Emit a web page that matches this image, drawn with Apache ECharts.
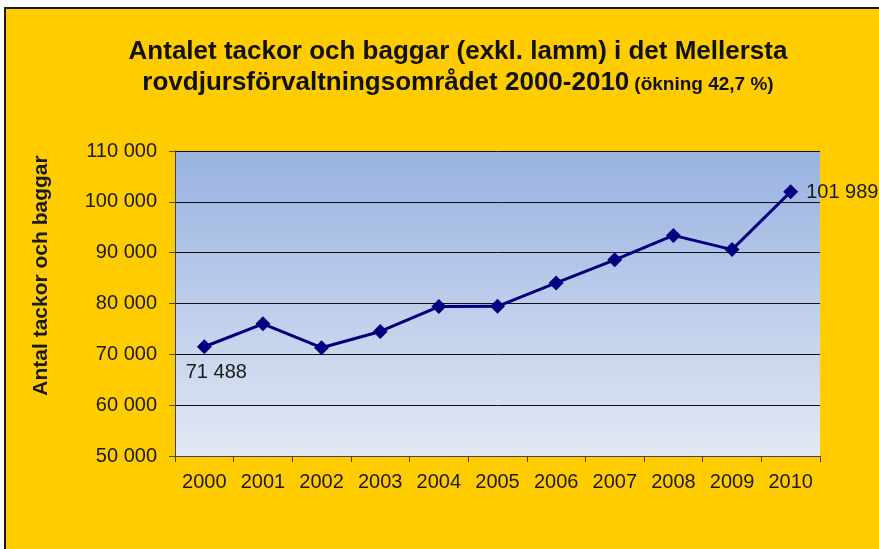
<!DOCTYPE html>
<html>
<head>
<meta charset="utf-8">
<script src="https://cdn.jsdelivr.net/npm/echarts@6/dist/echarts.min.js"></script>
<style>
  html, body { margin: 0; padding: 0; background: #fff; }
  #chart { width: 879px; height: 549px; }
</style>
</head>
<body>
<div id="chart"></div>
<script>
const years = ['2000', '2001', '2002', '2003', '2004', '2005', '2006', '2007', '2008', '2009', '2010'];
const sheep = [71488, 76000, 71300, 74500, 79400, 79450, 84050, 88600, 93400, 90600, 101989];
const yTicks = { min: 50000, max: 110000, step: 10000 };

const fmt = (v) => String(v).replace(/\B(?=(\d{3})+(?!\d))/g, ' ');

const font = 'Liberation Sans, Arial, sans-serif';
const chart = echarts.init(document.getElementById('chart'));

// only first and last point carry a value label
const points = sheep.map((v, i) => {
  if (i === 0) {
    return { value: v, label: { show: true, position: 'bottom', distance: 8, offset: [12, 0] } };
  }
  if (i === sheep.length - 1) {
    return { value: v, label: { show: true, position: 'right', distance: 8, offset: [0, 1] } };
  }
  return v;
});

chart.setOption({
  backgroundColor: '#ffffff',
  animation: false,
  graphic: [{
    type: 'rect',
    z: -10,
    shape: { x: 5, y: 8, width: 900, height: 600 },
    style: { fill: '#FFCC00', stroke: '#1a1a1a', lineWidth: 2 }
  }],
  title: [{
    text: 'Antalet tackor och baggar (exkl. lamm) i det Mellersta',
    left: 453, top: 34, textAlign: 'center',
    textStyle: { fontFamily: font, fontWeight: 'bold', fontSize: 26, color: '#111' }
  }, {
    text: '{b|rovdjursförvaltningsområdet 2000-2010} {s|(ökning 42,7 %)}',
    left: 453, top: 65, textAlign: 'center',
    textStyle: {
      rich: {
        b: { fontFamily: font, fontWeight: 'bold', fontSize: 26, color: '#111' },
        s: { fontFamily: font, fontWeight: 'bold', fontSize: 19, color: '#111', padding: [3, 0, 0, 0] }
      }
    }
  }],
  grid: {
    left: 175, right: 59, top: 151, bottom: 93,
    show: true,
    borderWidth: 0,
    backgroundColor: new echarts.graphic.LinearGradient(0, 0, 0, 1, [
      { offset: 0, color: '#98B2E1' },
      { offset: 1, color: '#E3E8F4' }
    ])
  },
  xAxis: {
    type: 'category',
    data: years,
    boundaryGap: true,
    axisLine: { lineStyle: { color: '#444', width: 1 } },
    axisTick: { show: true, length: 6, lineStyle: { color: '#444' } },
    axisLabel: { fontFamily: font, fontSize: 20, color: '#1a1a1a', margin: 16 }
  },
  yAxis: {
    type: 'value',
    min: yTicks.min, max: yTicks.max, interval: yTicks.step,
    name: 'Antal tackor och baggar',
    nameLocation: 'middle',
    nameGap: 123,
    nameRotate: 90,
    nameTextStyle: { fontFamily: font, fontWeight: 'bold', fontSize: 21, color: '#1a1a1a', padding: [0, 0, 0, 56] },
    axisLine: { show: true, lineStyle: { color: '#444', width: 1 } },
    axisTick: { show: true, length: 6, lineStyle: { color: '#444' } },
    splitLine: { lineStyle: { color: '#111', width: 1 } },
    axisLabel: { fontFamily: font, fontSize: 20, color: '#1a1a1a', margin: 18, formatter: fmt }
  },
  series: [{
    type: 'line',
    data: points,
    symbol: 'diamond',
    symbolSize: 15,
    itemStyle: { color: '#000080' },
    lineStyle: { color: '#000080', width: 3 },
    label: { fontFamily: font, fontSize: 20, color: '#1a1a1a', formatter: (p) => fmt(p.value) }
  }]
});
</script>
</body>
</html>
